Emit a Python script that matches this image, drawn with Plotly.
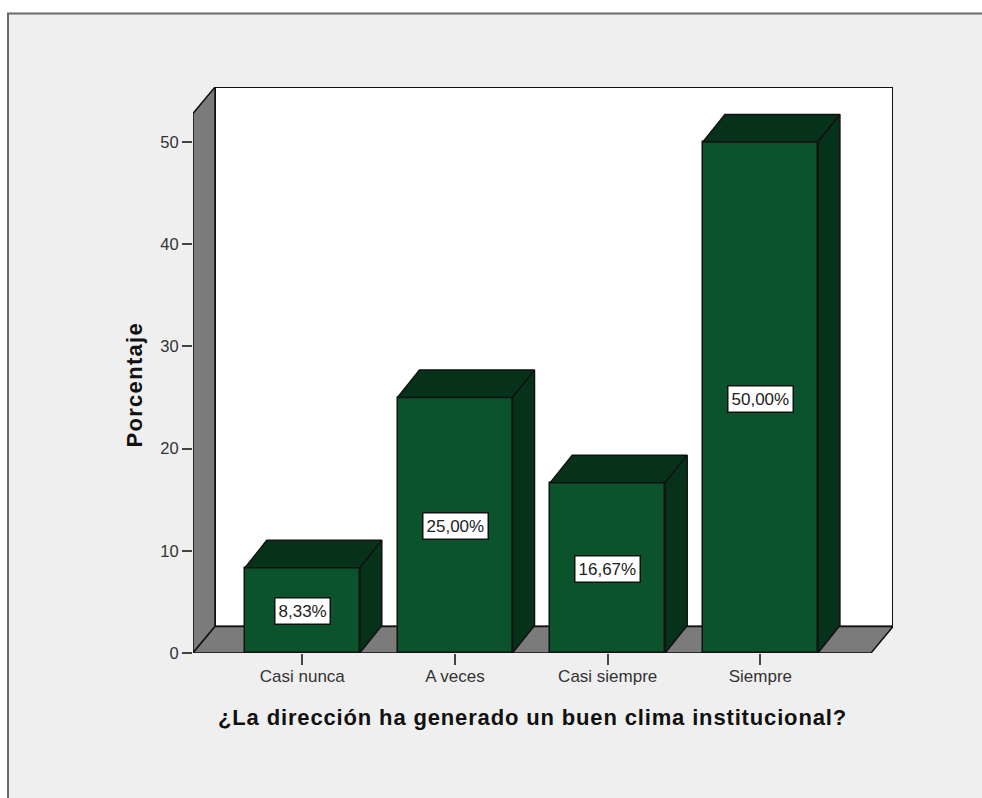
import plotly.graph_objects as go

categories = ["Casi nunca", "A veces", "Casi siempre", "Siempre"]
percentages = [8.33, 25.00, 16.67, 50.00]
value_labels = ["8,33%", "25,00%", "16,67%", "50,00%"]
y_ticks = [0, 10, 20, 30, 40, 50]
x_title = "¿La dirección ha generado un buen clima institucional?"
y_title = "Porcentaje"

W, H = 982, 798
L, R, T, B = 193, 893, 87, 653
PX_PER_CAT = 152.7
PX_PER_VAL = 10.22
X0_PX = 302.3
DX = 22 / PX_PER_CAT
DY = 27.5 / PX_PER_VAL
BAR_W = 115 / PX_PER_CAT
x_range = [(L - X0_PX) / PX_PER_CAT, (R - X0_PX) / PX_PER_CAT]
y_range = [0, (B - T) / PX_PER_VAL]
OUT = "#111111"
FRONT = "#0b532c"
DARK = "#06321a"
WALL = "#7b7b7b"
BG = "#efefef"
FONT = "Liberation Sans"

def px(v): return (v - L) / (R - L)
def py(v): return (B - v) / (B - T)
def path(pts): return "M " + " L ".join(f"{a},{b}" for a, b in pts) + " Z"

xs = list(range(len(categories)))
fig = go.Figure()
fig.add_trace(go.Bar(x=xs, y=percentages, width=BAR_W, marker=dict(color=FRONT, line=dict(color=OUT, width=1.5)), showlegend=False, hoverinfo="skip"))
for x, v in zip(xs, percentages):
    l, r = x - BAR_W / 2, x + BAR_W / 2
    fig.add_trace(go.Scatter(x=[l, l + DX, r + DX, r, l], y=[v, v + DY, v + DY, v, v], mode="lines", fill="toself", fillcolor=DARK, line=dict(color=OUT, width=1.5), showlegend=False, hoverinfo="skip", cliponaxis=False))
    fig.add_trace(go.Scatter(x=[r, r + DX, r + DX, r, r], y=[0, DY, v + DY, v, 0], mode="lines", fill="toself", fillcolor=DARK, line=dict(color=OUT, width=1.5), showlegend=False, hoverinfo="skip", cliponaxis=False))

xl, xr = x_range
yt = y_range[1]
FLOOR = 26.5 / PX_PER_VAL
shapes = [
    dict(type="rect", xref="paper", yref="paper", x0=px(8), x1=px(W + 10), y0=py(13.5), y1=py(H + 10), fillcolor=BG, line=dict(color="#6a6a6a", width=2), layer="below"),
    dict(type="path", xref="x", yref="y", path=path([(xl + DX, FLOOR), (xr, FLOOR), (xr, yt), (xl + DX, yt)]), fillcolor="white", line=dict(color=OUT, width=2), layer="below"),
    dict(type="path", xref="x", yref="y", path=path([(xl, 0), (xl + DX, FLOOR), (xl + DX, yt), (xl, yt - FLOOR)]), fillcolor=WALL, line=dict(color=OUT, width=1.5), layer="below"),
    dict(type="path", xref="x", yref="y", path=path([(xl, 0), (xl + DX, FLOOR), (xr, FLOOR), (xr - DX, 0)]), fillcolor=WALL, line=dict(color=OUT, width=1.5), layer="below"),
]
annotations = [
    dict(x=x, y=v / 2, xref="x", yref="y", text=t, showarrow=False, bgcolor="white", bordercolor=OUT, borderwidth=1.5, borderpad=3, yshift=-1, font=dict(family=FONT, size=17, color="#222222"))
    for x, v, t in zip(xs, percentages, value_labels)
]
annotations += [
    dict(x=px(532), y=py(717), xref="paper", yref="paper", xanchor="center", yanchor="middle", text=f"<b>{x_title}</b>", showarrow=False, font=dict(family=FONT, size=22, color="#111111")),
    dict(x=px(134), y=py(385), xref="paper", yref="paper", xanchor="center", yanchor="middle", text=f"<b>{y_title}</b>", textangle=-90, showarrow=False, font=dict(family=FONT, size=22, color="#111111")),
]
fig.update_layout(
    width=W, height=H, autosize=False, margin=dict(l=L, r=W - R, t=T, b=H - B),
    paper_bgcolor="white", plot_bgcolor="rgba(0,0,0,0)", showlegend=False,
    shapes=shapes, annotations=annotations, bargap=0,
    xaxis=dict(range=x_range, tickvals=xs, ticktext=categories, ticks="outside", ticklen=11, tickwidth=1.5, tickcolor="#444444", showgrid=False, zeroline=False, showline=False, ticklabelstandoff=-3, tickfont=dict(family=FONT, size=17, color="#333333")),
    yaxis=dict(range=y_range, tickvals=y_ticks, ticks="outside", ticklen=10, tickwidth=1.5, tickcolor="#444444", showgrid=False, zeroline=False, showline=False, tickfont=dict(family=FONT, size=16.5, color="#333333")),
)
post = """
document.body.style.margin='0';
document.documentElement.style.overflow='hidden';
document.querySelectorAll('.annotation-text').forEach(function(t){
  if (parseFloat(t.style.fontSize) >= 20) {
    t.style.letterSpacing = t.textContent.length > 20 ? '0.85px' : '1.3px';
  }
});
"""
fig.write_html("out.html", post_script=post, config={"displayModeBar": False})
